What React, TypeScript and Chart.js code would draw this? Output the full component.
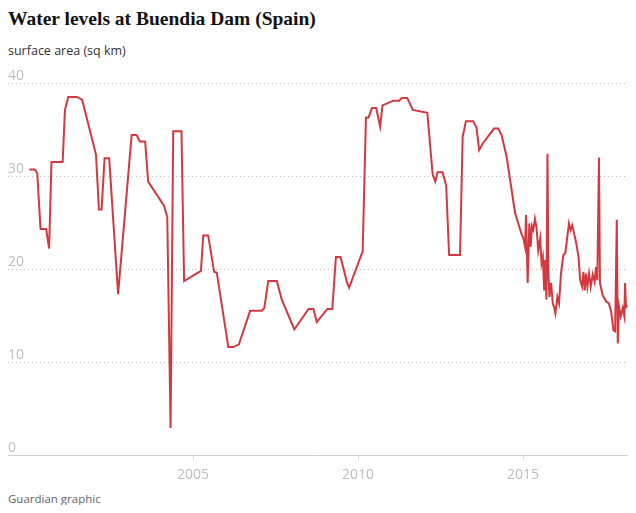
import React, { useEffect, useRef } from "react";
import { Chart, registerables } from "chart.js";

Chart.register(...registerables);

const years: number[] = [
  2000.04, 2000.21, 2000.28, 2000.38, 2000.55, 2000.64, 2000.71, 2001.05, 2001.12, 2001.22,
  2001.48, 2001.64, 2002.06, 2002.15, 2002.23, 2002.32, 2002.46, 2002.73, 2003.14, 2003.29,
  2003.39, 2003.55, 2003.64, 2004.12, 2004.22, 2004.32, 2004.4, 2004.65, 2004.73, 2005.24,
  2005.31, 2005.46, 2005.64, 2005.72, 2006.07, 2006.22, 2006.39, 2006.73, 2007.08, 2007.16,
  2007.28, 2007.54, 2007.69, 2008.07, 2008.5, 2008.65, 2008.75, 2009.07, 2009.22, 2009.33,
  2009.47, 2009.67, 2009.73, 2010.14, 2010.24, 2010.32, 2010.42, 2010.55, 2010.67, 2010.74,
  2011.07, 2011.25, 2011.33, 2011.49, 2011.66, 2012.1, 2012.26, 2012.34, 2012.41, 2012.56,
  2012.67, 2012.76, 2013.09, 2013.17, 2013.27, 2013.49, 2013.59, 2013.67, 2013.78, 2014.12,
  2014.25, 2014.35, 2014.5, 2014.76, 2014.96, 2015.01, 2015.06, 2015.09, 2015.14, 2015.19,
  2015.23, 2015.27, 2015.31, 2015.36, 2015.41, 2015.46, 2015.52, 2015.56, 2015.6, 2015.64,
  2015.67, 2015.71, 2015.74, 2015.77, 2015.8, 2015.85, 2015.9, 2015.94, 2015.98, 2016.04,
  2016.09, 2016.15, 2016.22, 2016.28, 2016.39, 2016.44, 2016.49, 2016.55, 2016.61, 2016.68,
  2016.73, 2016.79, 2016.83, 2016.87, 2016.91, 2016.95, 2017.0, 2017.05, 2017.11, 2017.17,
  2017.21, 2017.25, 2017.3, 2017.33, 2017.41, 2017.52, 2017.6, 2017.67, 2017.74, 2017.79,
  2017.84, 2017.87, 2017.91, 2017.96, 2018.02, 2018.07, 2018.09, 2018.12, 2018.16,
];

const surfaceArea: number[] = [
  30.7, 30.7, 30.3, 24.3, 24.3, 22.2, 31.5, 31.5, 37.1, 38.5,
  38.5, 38.2, 32.3, 26.4, 26.4, 31.9, 31.9, 17.3, 34.4, 34.4,
  33.7, 33.7, 29.4, 26.8, 25.6, 2.9, 34.8, 34.8, 18.7, 19.8,
  23.6, 23.6, 19.7, 19.6, 11.6, 11.6, 11.9, 15.5, 15.5, 15.8,
  18.7, 18.7, 16.7, 13.5, 15.7, 15.7, 14.3, 15.7, 15.7, 21.3,
  21.3, 18.5, 18.0, 21.9, 36.3, 36.3, 37.3, 37.3, 35.3, 37.6,
  38.1, 38.1, 38.4, 38.4, 37.1, 36.8, 30.2, 29.4, 30.4, 30.4,
  29.0, 21.5, 21.5, 34.2, 35.9, 35.9, 35.2, 32.8, 33.5, 35.1,
  35.1, 34.4, 32.1, 26.0, 23.7, 23.3, 22.4, 25.8, 18.5, 24.9,
  22.4, 24.6, 24.2, 25.4, 24.4, 22.0, 23.3, 20.6, 21.3, 17.7,
  21.0, 16.7, 32.4, 19.5, 17.0, 18.5, 16.3, 15.9, 15.2, 17.0,
  16.3, 19.5, 21.5, 21.7, 24.9, 24.2, 24.7, 23.8, 22.8, 21.3,
  18.8, 18.1, 19.7, 17.7, 19.5, 18.1, 19.5, 18.1, 19.4, 18.6,
  20.2, 18.8, 32.0, 18.5, 17.2, 16.5, 16.3, 15.4, 13.4, 13.3,
  25.3, 12.0, 15.9, 14.9, 15.8, 14.9, 18.5, 15.9, 16.1,
];

const xTickYears: number[] = [2005, 2010, 2015];
const yTickValues: number[] = [0, 10, 20, 30, 40];

const titleText = "Water levels at Buendia Dam (Spain)";
const subtitleText = "surface area (sq km)";
const sourceText = "Guardian graphic";

export default function App() {
  const canvasRef = useRef<HTMLCanvasElement | null>(null);

  useEffect(() => {
    if (!canvasRef.current) return;
    const chart = new Chart(canvasRef.current, {
      type: "line",
      data: {
        datasets: [
          {
            data: years.map((y, i) => ({ x: y, y: surfaceArea[i] })),
            borderColor: "#d3393f",
            borderWidth: 2,
            pointRadius: 0,
            tension: 0,
            fill: false,
          },
        ],
      },
      options: {
        animation: false,
        responsive: false,
        maintainAspectRatio: false,
        layout: { padding: { top: 17, left: 0, right: 0, bottom: 0 } },
        plugins: {
          legend: { display: false },
          tooltip: { enabled: false },
          title: { display: false },
        },
        scales: {
          x: {
            type: "linear",
            min: 1999.394,
            max: 2018.18,
            afterBuildTicks: (scale: any) => {
              scale.ticks = xTickYears.map((v) => ({ value: v }));
            },
            afterFit: (scale: any) => {
              scale.height = 30;
            },
            ticks: {
              color: "#bdbdbd",
              font: { family: "'Open Sans', sans-serif", size: 14 },
              padding: 7,
              maxRotation: 0,
              callback: (v: any) => String(v),
            },
            grid: {
              display: true,
              drawOnChartArea: false,
              drawTicks: true,
              tickLength: 5,
              color: "#dcdcdc",
            },
            border: { display: true, color: "#d0d0d0", width: 1 },
          },
          y: {
            type: "linear",
            min: 0,
            max: 40,
            afterBuildTicks: (scale: any) => {
              scale.ticks = yTickValues.map((v) => ({ value: v }));
            },
            afterFit: (scale: any) => {
              scale.width = 0;
            },
            ticks: {
              mirror: true,
              padding: 0,
              labelOffset: -7,
              color: "#c0c0c0",
              font: { family: "'Open Sans', sans-serif", size: 14 },
              callback: (v: any) => String(v),
            },
            grid: {
              display: true,
              drawTicks: false,
              color: (ctx: any) => (ctx.tick && ctx.tick.value === 0 ? "rgba(0,0,0,0)" : "#bdbdbd"),
              lineWidth: 1,
            },
            border: { display: false, dash: [1, 3] },
          },
        },
      },
    });
    return () => chart.destroy();
  }, []);

  return (
    <div style={{ position: "relative", width: 620, height: 497 }}>
      <div
        style={{
          position: "absolute",
          top: 0,
          left: 0,
          fontFamily: "'Liberation Serif', serif",
          fontWeight: 700,
          fontSize: 19.5,
          lineHeight: "22px",
          color: "#121212",
          whiteSpace: "nowrap",
        }}
      >
        {titleText}
      </div>
      <div
        style={{
          position: "absolute",
          top: 35,
          left: 0,
          fontFamily: "'Open Sans', sans-serif",
          fontSize: 12.5,
          lineHeight: "15px",
          color: "#333",
          whiteSpace: "nowrap",
        }}
      >
        {subtitleText}
      </div>
      <canvas
        ref={canvasRef}
        width={620}
        height={419}
        style={{ position: "absolute", top: 58, left: 0, width: 620, height: 419 }}
      />
      <div
        style={{
          position: "absolute",
          top: 484,
          left: 0,
          fontFamily: "'Open Sans', sans-serif",
          fontSize: 11.5,
          lineHeight: "14px",
          color: "#666",
          whiteSpace: "nowrap",
        }}
      >
        {sourceText}
      </div>
    </div>
  );
}
